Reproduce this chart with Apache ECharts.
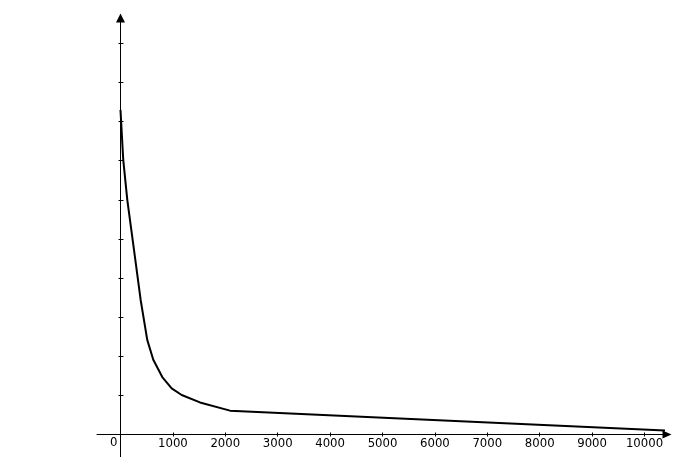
<!DOCTYPE html>
<html>
<head>
<meta charset="utf-8">
<script src="https://cdn.jsdelivr.net/npm/echarts@6/dist/echarts.min.js"></script>
<style>html,body{margin:0;padding:0;background:#fff}#c{width:678px;height:457px}</style>
</head>
<body>
<div id="c"></div>
<script>
// Curve samples (x, y in tick units)
const xValues = [0, 53, 130, 263, 385, 511, 626, 798, 977, 1168, 1517, 2090, 5334, 10391];
const yValues = [8.30, 7.02, 6.00, 4.67, 3.44, 2.42, 1.91, 1.47, 1.18, 1.01, 0.82, 0.61, 0.41, 0.10];
const xTickLabels = [1000, 2000, 3000, 4000, 5000, 6000, 7000, 8000, 9000, 10000];
const yTicks = [1, 2, 3, 4, 5, 6, 7, 8, 9, 10];
const originLabel = [0];

const font = "'Liberation Sans Narrow', 'DejaVu Sans Condensed', 'Liberation Sans', sans-serif";
const chart = echarts.init(document.getElementById('c'), null, {renderer: 'canvas'});
chart.setOption({
  animation: false,
  backgroundColor: '#ffffff',
  grid: [
    {left: 97, right: 11, top: 18, bottom: 0, containLabel: false, outerBoundsMode: 'none'},
    {left: 120.5, right: 11, top: 18, bottom: 22.5, containLabel: false, outerBoundsMode: 'none'}
  ],
  xAxis: [{
    gridIndex: 0, type: 'value', min: -448, max: 10429,
    splitLine: {show: false},
    axisLine: {show: true, onZero: true, lineStyle: {color: '#000', width: 1},
      symbol: ['none', 'triangle'], symbolSize: [8, 9]},
    axisTick: {show: true, length: 2, inside: true, customValues: xTickLabels, lineStyle: {color: '#000'}},
    axisLabel: {show: false},
  }, {
    gridIndex: 1, type: 'value', min: 0, max: 10429,
    splitLine: {show: false},
    axisLine: {show: false, onZero: false},
    axisTick: {show: true, length: 2, inside: false, customValues: xTickLabels, lineStyle: {color: '#000'}},
    axisLabel: {show: true, customValues: xTickLabels, margin: 3, color: '#000',
      fontFamily: font, fontSize: 13, formatter: v => String(v)},
  }],
  yAxis: [{
    gridIndex: 0, type: 'value', min: -0.575, max: 10.65,
    splitLine: {show: false},
    axisLine: {show: true, onZero: true, lineStyle: {color: '#000', width: 1},
      symbol: ['none', 'triangle'], symbolSize: [9, 9]},
    axisTick: {show: true, length: 3, inside: true, customValues: yTicks, lineStyle: {color: '#000'}},
    axisLabel: {show: false},
  }, {
    gridIndex: 1, type: 'value', min: 0, max: 10.65,
    splitLine: {show: false},
    axisLine: {show: false, onZero: false},
    axisTick: {show: true, length: 2, inside: false, customValues: yTicks, lineStyle: {color: '#000'}},
    axisLabel: {show: true, customValues: originLabel, margin: 3, verticalAlign: 'top', padding: [2, 0, 0, 0],
      color: '#000', fontFamily: font, fontSize: 13, formatter: v => String(v)},
  }],
  series: [{
    type: 'line',
    xAxisIndex: 0, yAxisIndex: 0,
    data: xValues.map((x, i) => [x, yValues[i]]),
    showSymbol: false, smooth: false,
    lineStyle: {color: '#000', width: 2},
  }]
});
</script>
</body>
</html>
